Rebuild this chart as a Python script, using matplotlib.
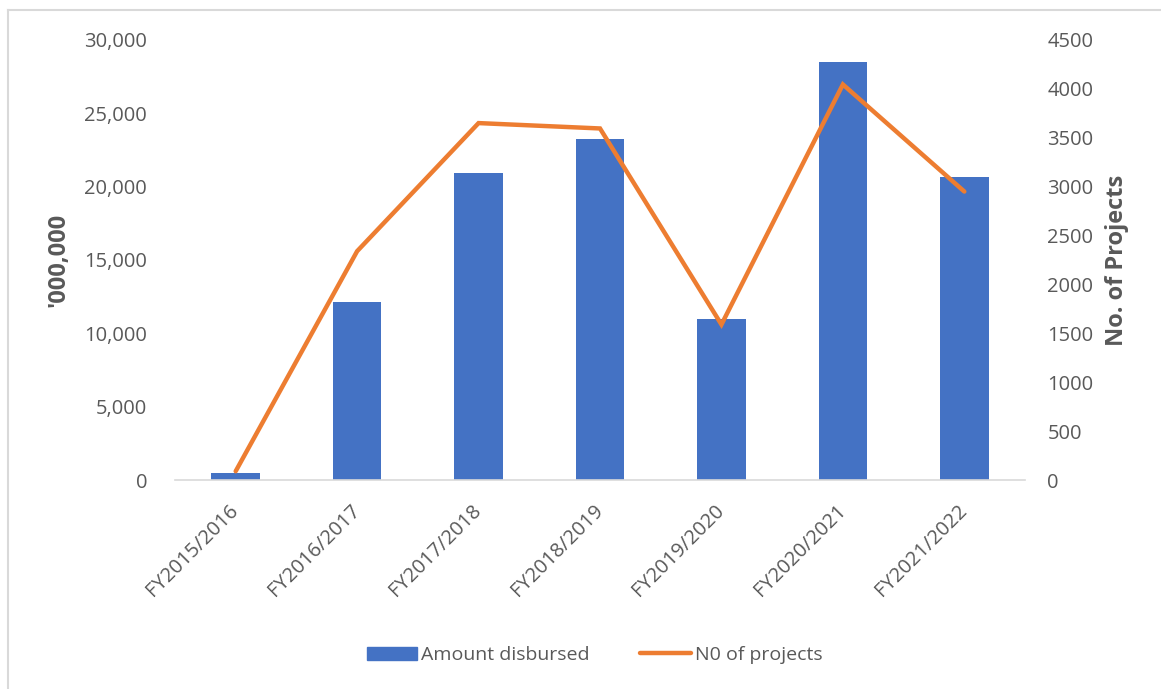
import matplotlib
matplotlib.use("Agg")
import matplotlib.pyplot as plt
from matplotlib.lines import Line2D
from matplotlib.ticker import FuncFormatter

years = ["FY2015/2016", "FY2016/2017", "FY2017/2018", "FY2018/2019",
         "FY2019/2020", "FY2020/2021", "FY2021/2022"]
amount = [460, 12140, 20900, 23250, 10950, 28500, 20660]   # '000,000
projects = [90, 2340, 3650, 3595, 1590, 4045, 2950]

BLUE = "#4472C4"
ORANGE = "#ED7D31"
TXT = "#595959"

plt.rcParams["font.family"] = ["Open Sans", "DejaVu Sans"]

fig = plt.figure(figsize=(11.61, 6.89), dpi=100)
ax = fig.add_axes([0.1507, 0.3033, 0.7322, 0.6387])
ax2 = ax.twinx()

x = list(range(len(years)))
ax.bar(x, amount, width=0.4, color=BLUE, label="Amount disbursed", zorder=2)
ax2.plot(x, projects, color=ORANGE, lw=3.2, solid_capstyle="round",
         solid_joinstyle="miter", label="N0 of projects")

ax.set_xlim(-0.5, len(years) - 0.5)
ax.set_ylim(0, 30000)
ax2.set_ylim(0, 4500)
ax.set_yticks(range(0, 30001, 5000))
ax2.set_yticks(range(0, 4501, 500))
ax.yaxis.set_major_formatter(FuncFormatter(lambda v, p: f"{int(v):,}"))

for a in (ax, ax2):
    for s in ("top", "left", "right", "bottom"):
        a.spines[s].set_visible(False)
    a.tick_params(length=0, colors=TXT, labelsize=14.5)
ax.spines["bottom"].set_visible(True)
ax.spines["bottom"].set_color("#D9D9D9")
ax.spines["bottom"].set_linewidth(1.2)
ax.tick_params(axis="y", pad=20)
ax2.tick_params(axis="y", pad=16)

ax.set_xticks(x)
ax.set_xticklabels(years, rotation=45, ha="right", va="center",
                   rotation_mode="anchor")
ax.tick_params(axis="x", pad=20)

ax.set_ylabel("'000,000", fontsize=17, fontweight="bold", color=TXT, labelpad=10)
ax2.set_ylabel("No. of Projects", fontsize=17, fontweight="bold", color=TXT, labelpad=8)

handles = [plt.Rectangle((0, 0), 1, 1, color=BLUE),
           Line2D([0], [0], color=ORANGE, lw=3.2, solid_capstyle="round")]
fig.legend(handles, ["Amount disbursed", "N0 of projects"], loc="center",
           bbox_to_anchor=(0.512, 0.049), ncol=2, frameon=False, fontsize=14,
           labelcolor=TXT, handlelength=2.6, handletextpad=0.2, columnspacing=2.6)

# chart area border (left and top edges visible)
fig.add_artist(Line2D([8 / 1161, 8 / 1161], [0, 1 - 10 / 689], color="#D9D9D9",
                      lw=1.5, transform=fig.transFigure))
fig.add_artist(Line2D([8 / 1161, 1], [1 - 10 / 689, 1 - 10 / 689], color="#D9D9D9",
                      lw=1.5, transform=fig.transFigure))

fig.savefig("out.png", dpi=100)
